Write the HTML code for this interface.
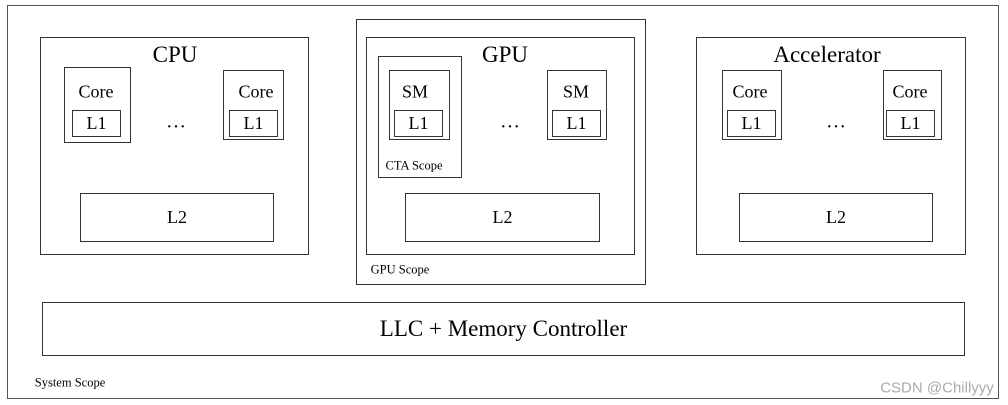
<!DOCTYPE html><html><head><style>
body{margin:0;width:1008px;height:405px;background:#fff;position:relative;overflow:hidden;font-family:"Liberation Serif",serif;color:#000}
.b{position:absolute;border:1.3px solid #333;box-sizing:border-box}
.t{position:absolute;white-space:nowrap;transform:translate(-50%,-50%)}
.c{display:flex;align-items:center;justify-content:center;font-size:18px}
</style></head><body>
<div class="b" style="left:7px;top:5px;width:992px;height:394px;border-color:#555"></div>
<!-- CPU -->
<div class="b" style="left:40px;top:37px;width:269px;height:218px"></div>
<div class="t" style="left:175px;top:55px;font-size:23px">CPU</div>
<div class="b" style="left:64px;top:67px;width:67px;height:76px"></div>
<div class="t" style="left:96px;top:92px;font-size:18px">Core</div>
<div class="b c" style="left:72px;top:110px;width:49px;height:27px">L1</div>
<div class="b" style="left:223px;top:70px;width:61px;height:70px"></div>
<div class="t" style="left:256px;top:92px;font-size:18px">Core</div>
<div class="b c" style="left:229px;top:110px;width:49px;height:27px">L1</div>
<div class="t" style="left:176px;top:122px;font-size:20px">…</div>
<div class="b c" style="left:80px;top:193px;width:194px;height:49px">L2</div>
<!-- GPU -->
<div class="b" style="left:356px;top:19px;width:290px;height:266px"></div>
<div class="b" style="left:366px;top:37px;width:269px;height:218px"></div>
<div class="t" style="left:505px;top:55px;font-size:23px">GPU</div>
<div class="b" style="left:378px;top:56px;width:84px;height:122px"></div>
<div class="t" style="left:414px;top:166px;font-size:12.5px">CTA Scope</div>
<div class="b" style="left:389px;top:70px;width:61px;height:70px"></div>
<div class="t" style="left:415px;top:92px;font-size:18px">SM</div>
<div class="b c" style="left:394px;top:110px;width:49px;height:27px">L1</div>
<div class="b" style="left:547px;top:70px;width:60px;height:70px"></div>
<div class="t" style="left:576px;top:92px;font-size:18px">SM</div>
<div class="b c" style="left:552px;top:110px;width:49px;height:27px">L1</div>
<div class="t" style="left:510px;top:122px;font-size:20px">…</div>
<div class="b c" style="left:405px;top:193px;width:195px;height:49px">L2</div>
<div class="t" style="left:400px;top:270px;font-size:12.5px">GPU Scope</div>
<!-- Accelerator -->
<div class="b" style="left:696px;top:37px;width:270px;height:218px"></div>
<div class="t" style="left:827px;top:55px;font-size:23px">Accelerator</div>
<div class="b" style="left:722px;top:70px;width:60px;height:70px"></div>
<div class="t" style="left:750px;top:92px;font-size:18px">Core</div>
<div class="b c" style="left:727px;top:110px;width:49px;height:27px">L1</div>
<div class="b" style="left:883px;top:70px;width:59px;height:70px"></div>
<div class="t" style="left:910px;top:92px;font-size:18px">Core</div>
<div class="b c" style="left:886px;top:110px;width:49px;height:27px">L1</div>
<div class="t" style="left:836px;top:122px;font-size:20px">…</div>
<div class="b c" style="left:739px;top:193px;width:194px;height:49px">L2</div>
<!-- LLC -->
<div class="b c" style="left:42px;top:302px;width:923px;height:54px;font-size:23px">LLC + Memory Controller</div>
<div class="t" style="left:70px;top:383px;font-size:12.5px">System Scope</div>
<div class="t" style="left:937px;top:388px;font-size:15px;font-family:'Liberation Sans',sans-serif;color:#aaa">CSDN @Chillyyy</div>
</body></html>
